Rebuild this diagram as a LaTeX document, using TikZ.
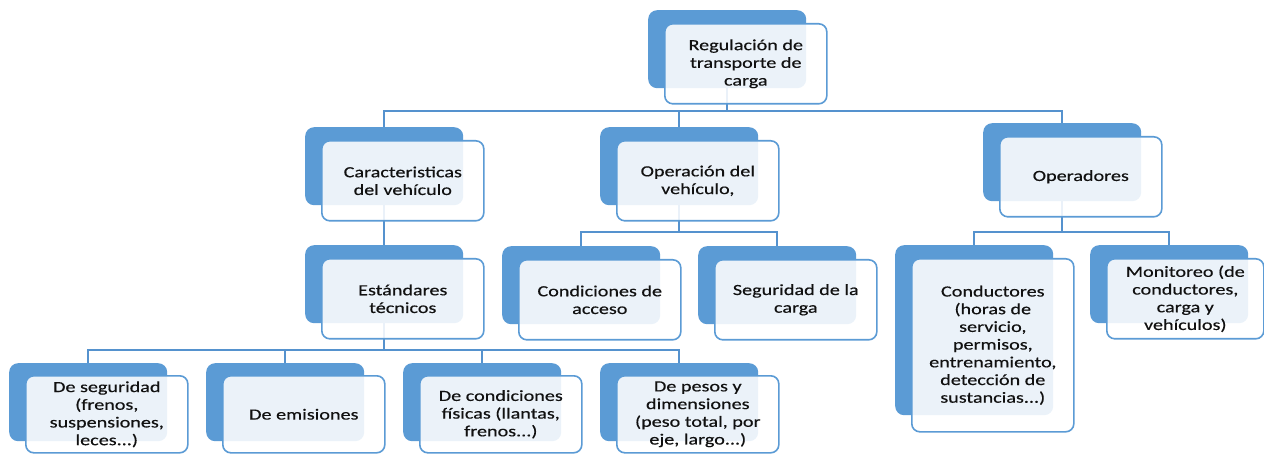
\documentclass[tikz,border=0pt]{standalone}
\usepackage{fontspec}
\setmainfont{Carlito}[FakeStretch=1.3,FakeBold=0.4]
\usetikzlibrary{calc}
\pgfdeclarelayer{bg}
\pgfsetlayers{bg,main}
\definecolor{bblue}{HTML}{5B9BD5}
\definecolor{lblue}{HTML}{5592CE}
\definecolor{txt}{HTML}{111111}
\begin{document}
\begin{tikzpicture}[x=1pt,y=-1pt,
 backbox/.style={fill=bblue, rounded corners=9pt, minimum width=158pt, minimum height=78pt, inner sep=0pt, anchor=north west},
 frontbox/.style={draw=bblue, line width=1.6pt, fill=white, fill opacity=0.88, text opacity=1, text=txt, rounded corners=8pt, minimum width=162pt, minimum height=80pt, inner sep=0pt, anchor=north west, align=center, font=\fontsize{15.5}{17.7}\selectfont},
 conn/.style={draw=lblue, line width=1.8pt}]
\useasboundingbox (0,0) rectangle (1264,454);
% level 0
\node[backbox] (topB) at (648,10) {};
\node[frontbox] (topF) at ($(topB.north west)+(16,13)$) {Regulación de\\transporte de\\carga};
% level 1
\node[backbox] (carB) at (305,127) {};
\node[frontbox] (carF) at ($(carB.north west)+(16,13)$) {Caracteristicas\\del vehículo};
\node[backbox] (opeB) at (600,127) {};
\node[frontbox] (opeF) at ($(opeB.north west)+(16,13)$) {Operación del\\vehículo,};
\node[backbox] (oprB) at (983,123) {};
\node[frontbox] (oprF) at ($(oprB.north west)+(16,13)$) {Operadores};
% level 2
\node[backbox] (estB) at (305,245) {};
\node[frontbox] (estF) at ($(estB.north west)+(16,13)$) {Estándares\\técnicos};
\node[backbox] (condB) at (502,246) {};
\node[frontbox] (condF) at ($(condB.north west)+(16,13)$) {Condiciones de\\acceso};
\node[backbox] (segB) at (698,246) {};
\node[frontbox] (segF) at ($(segB.north west)+(16,13)$) {Seguridad de la\\carga};
\node[backbox, minimum height=170pt] (conduB) at (895,245) {};
\node[frontbox, minimum height=173pt] (conduF) at ($(conduB.north west)+(16,13)$) {Conductores\\(horas de\\servicio,\\permisos,\\entrenamiento,\\detección de\\sustancias...)};
\node[backbox] (monB) at (1090,245) {};
\node[frontbox, minimum width=157pt] (monF) at ($(monB.north west)+(16,13)$) {Monitoreo (de\\conductores,\\carga y\\vehículos)};
% level 3
\node[backbox] (s1B) at (9,363) {};
\node[frontbox, minimum height=77pt] (s1F) at ($(s1B.north west)+(16,12)$) {De seguridad\\(frenos,\\suspensiones,\\leces...)};
\node[backbox] (s2B) at (206,363) {};
\node[frontbox, minimum height=77pt] (s2F) at ($(s2B.north west)+(16,12)$) {De emisiones};
\node[backbox] (s3B) at (403,363) {};
\node[frontbox, minimum height=77pt] (s3F) at ($(s3B.north west)+(16,12)$) {De condiciones\\físicas (llantas,\\frenos...)};
\node[backbox] (s4B) at (600,363) {};
\node[frontbox, minimum height=77pt] (s4F) at ($(s4B.north west)+(16,12)$) {De pesos y\\dimensiones\\(peso total, por\\eje, largo...)};
% background and connectors
\begin{pgfonlayer}{bg}
\fill[white] (0,0) rectangle (1264,454);
\coordinate (busA) at (0,111);
\coordinate (busB) at (0,232);
\coordinate (busC) at (0,350);
\draw[conn] (topB.center) -- (topB.center |- busA);
\draw[conn] (carB.center) |- (oprB.center |- busA) -- (oprB.center);
\draw[conn] (opeB.center) -- (opeB.center |- busA);
\draw[conn] (carB.center) -- (estB.center);
\draw[conn] (opeB.center) -- (opeB.center |- busB);
\draw[conn] (condB.center) |- (segB.center |- busB) -- (segB.center);
\draw[conn] (oprB.center) -- (oprB.center |- busB);
\draw[conn] (conduB.center) |- (monB.center |- busB) -- (monB.center);
\draw[conn] (estB.center) -- (estB.center |- busC);
\draw[conn] (s1B.center) |- (s4B.center |- busC) -- (s4B.center);
\draw[conn] (s2B.center) -- (s2B.center |- busC);
\draw[conn] (s3B.center) -- (s3B.center |- busC);
\end{pgfonlayer}
\end{tikzpicture}
\end{document}
